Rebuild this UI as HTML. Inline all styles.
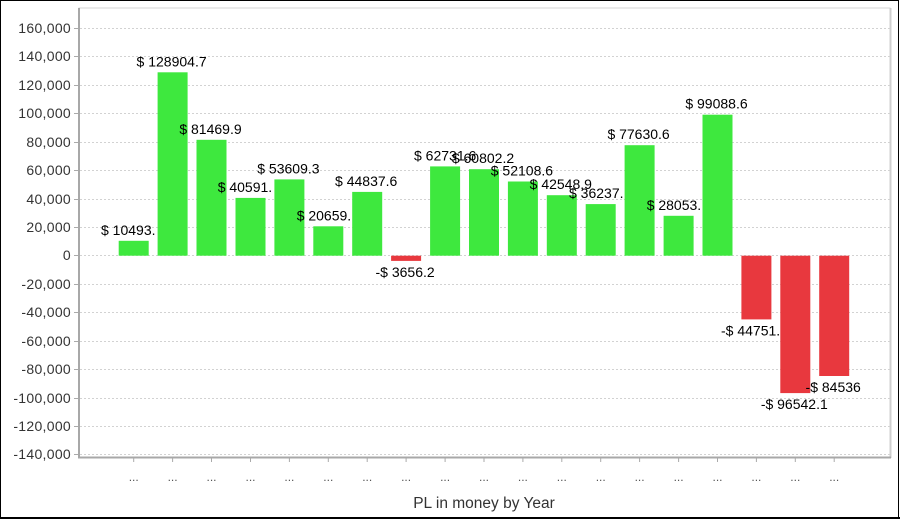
<!DOCTYPE html>
<html><head><meta charset="utf-8"><style>
html,body{margin:0;padding:0;background:#fff;}
svg{display:block;}
text{font-family:"Liberation Sans",Arial,sans-serif;}
</style></head><body>
<svg width="900" height="519" viewBox="0 0 900 519" xmlns="http://www.w3.org/2000/svg">
<rect x="0" y="0" width="900" height="519" fill="#fff"/>
<!-- outer border -->
<rect x="0.5" y="0.5" width="898" height="517" fill="none" stroke="#000" stroke-width="1"/>
<line x1="898.5" y1="0" x2="898.5" y2="519" stroke="#000" stroke-width="1"/>
<line x1="0" y1="518" x2="900" y2="518" stroke="#000" stroke-width="2"/>

<!-- plot frame -->
<rect x="79" y="8" width="811" height="449" fill="#fff" stroke="#d4d4d4" stroke-width="1"/>
<line x1="890.5" y1="8" x2="890.5" y2="458" stroke="#cfcfcf" stroke-width="2"/>

<!-- gridlines -->
<g stroke="#d2d2d2" stroke-width="1" stroke-dasharray="2,2">
<line x1="80" y1="28.5" x2="890" y2="28.5"/>
<line x1="80" y1="56.5" x2="890" y2="56.5"/>
<line x1="80" y1="85.5" x2="890" y2="85.5"/>
<line x1="80" y1="113.5" x2="890" y2="113.5"/>
<line x1="80" y1="142.5" x2="890" y2="142.5"/>
<line x1="80" y1="170.5" x2="890" y2="170.5"/>
<line x1="80" y1="199.5" x2="890" y2="199.5"/>
<line x1="80" y1="227.5" x2="890" y2="227.5"/>
<line x1="80" y1="255.5" x2="890" y2="255.5"/>
<line x1="80" y1="284.5" x2="890" y2="284.5"/>
<line x1="80" y1="312.5" x2="890" y2="312.5"/>
<line x1="80" y1="341.5" x2="890" y2="341.5"/>
<line x1="80" y1="369.5" x2="890" y2="369.5"/>
<line x1="80" y1="398.5" x2="890" y2="398.5"/>
<line x1="80" y1="426.5" x2="890" y2="426.5"/>
<line x1="80" y1="454.5" x2="890" y2="454.5"/>
</g>

<!-- y ticks -->
<g stroke="#aaa" stroke-width="1">
<line x1="74" y1="28.5" x2="79" y2="28.5"/>
<line x1="74" y1="56.5" x2="79" y2="56.5"/>
<line x1="74" y1="85.5" x2="79" y2="85.5"/>
<line x1="74" y1="113.5" x2="79" y2="113.5"/>
<line x1="74" y1="142.5" x2="79" y2="142.5"/>
<line x1="74" y1="170.5" x2="79" y2="170.5"/>
<line x1="74" y1="199.5" x2="79" y2="199.5"/>
<line x1="74" y1="227.5" x2="79" y2="227.5"/>
<line x1="74" y1="255.5" x2="79" y2="255.5"/>
<line x1="74" y1="284.5" x2="79" y2="284.5"/>
<line x1="74" y1="312.5" x2="79" y2="312.5"/>
<line x1="74" y1="341.5" x2="79" y2="341.5"/>
<line x1="74" y1="369.5" x2="79" y2="369.5"/>
<line x1="74" y1="398.5" x2="79" y2="398.5"/>
<line x1="74" y1="426.5" x2="79" y2="426.5"/>
<line x1="74" y1="454.5" x2="79" y2="454.5"/>
</g>

<!-- y labels -->
<g font-size="14" fill="#333" text-anchor="end" letter-spacing="0.3">
<text x="71" y="33">160,000</text>
<text x="71" y="61">140,000</text>
<text x="71" y="90">120,000</text>
<text x="71" y="118">100,000</text>
<text x="71" y="147">80,000</text>
<text x="71" y="175">60,000</text>
<text x="71" y="204">40,000</text>
<text x="71" y="232">20,000</text>
<text x="71" y="260">0</text>
<text x="71" y="289">-20,000</text>
<text x="71" y="317">-40,000</text>
<text x="71" y="346">-60,000</text>
<text x="71" y="374">-80,000</text>
<text x="71" y="403">-100,000</text>
<text x="71" y="431">-120,000</text>
<text x="71" y="459">-140,000</text>
</g>

<!-- bars and labels in draw order -->
<g font-size="14" fill="#000" text-anchor="middle">
<rect x="118.7" y="240.8" width="30" height="14.9" fill="#3ee83e"/>
<text x="101" y="234.8" text-anchor="start">$ 10493.</text>
<rect x="157.6" y="72.3" width="30" height="183.4" fill="#3ee83e"/>
<text x="171.6" y="66.3">$ 128904.7</text>
<rect x="196.5" y="139.8" width="30" height="115.9" fill="#3ee83e"/>
<text x="210.5" y="133.8">$ 81469.9</text>
<rect x="235.5" y="197.9" width="30" height="57.8" fill="#3ee83e"/>
<text x="217.7" y="191.9" text-anchor="start">$ 40591.</text>
<rect x="274.4" y="179.4" width="30" height="76.3" fill="#3ee83e"/>
<text x="288.4" y="173.4">$ 53609.3</text>
<rect x="313.3" y="226.3" width="30" height="29.4" fill="#3ee83e"/>
<text x="296.7" y="220.3" text-anchor="start">$ 20659.</text>
<rect x="352.2" y="191.9" width="30" height="63.8" fill="#3ee83e"/>
<text x="366.2" y="185.9">$ 44837.6</text>
<rect x="391.1" y="255.7" width="30" height="5.2" fill="#e8383e"/>
<text x="405.1" y="277">-$ 3656.2</text>
<rect x="430.1" y="166.4" width="30" height="89.3" fill="#3ee83e"/>
<text x="414" y="160.4" text-anchor="start">$ 62731.6</text>
<rect x="469.0" y="169.2" width="30" height="86.5" fill="#3ee83e"/>
<text x="483.0" y="163.2">$ 60802.2</text>
<rect x="507.9" y="181.5" width="30" height="74.2" fill="#3ee83e"/>
<text x="521.9" y="175.5">$ 52108.6</text>
<rect x="546.8" y="195.2" width="30" height="60.5" fill="#3ee83e"/>
<text x="560.8" y="189.2">$ 42548.9</text>
<rect x="585.7" y="204.1" width="30" height="51.6" fill="#3ee83e"/>
<text x="569" y="198.1" text-anchor="start">$ 36237.</text>
<rect x="624.6" y="145.2" width="30" height="110.5" fill="#3ee83e"/>
<text x="638.6" y="139.2">$ 77630.6</text>
<rect x="663.6" y="215.8" width="30" height="39.9" fill="#3ee83e"/>
<text x="646.7" y="209.8" text-anchor="start">$ 28053.</text>
<rect x="702.5" y="114.7" width="30" height="141.0" fill="#3ee83e"/>
<text x="716.5" y="108.7">$ 99088.6</text>
<rect x="741.4" y="255.7" width="30" height="63.7" fill="#e8383e"/>
<text x="721" y="335.4" text-anchor="start">-$ 44751.</text>
<rect x="780.3" y="255.7" width="30" height="137.4" fill="#e8383e"/>
<text x="794.3" y="409.1">-$ 96542.1</text>
<rect x="819.2" y="255.7" width="30" height="120.3" fill="#e8383e"/>
<text x="833.2" y="392">-$ 84536</text>
</g>

<!-- axes -->
<line x1="79" y1="8" x2="79" y2="458.5" stroke="#a8a8a8" stroke-width="2"/>
<line x1="78" y1="457.5" x2="891" y2="457.5" stroke="#a8a8a8" stroke-width="2"/>

<!-- x ticks -->
<g stroke="#aaa" stroke-width="1">
<line x1="133.7" y1="458" x2="133.7" y2="462"/>
<line x1="172.6" y1="458" x2="172.6" y2="462"/>
<line x1="211.5" y1="458" x2="211.5" y2="462"/>
<line x1="250.5" y1="458" x2="250.5" y2="462"/>
<line x1="289.4" y1="458" x2="289.4" y2="462"/>
<line x1="328.3" y1="458" x2="328.3" y2="462"/>
<line x1="367.2" y1="458" x2="367.2" y2="462"/>
<line x1="406.1" y1="458" x2="406.1" y2="462"/>
<line x1="445.1" y1="458" x2="445.1" y2="462"/>
<line x1="484.0" y1="458" x2="484.0" y2="462"/>
<line x1="522.9" y1="458" x2="522.9" y2="462"/>
<line x1="561.8" y1="458" x2="561.8" y2="462"/>
<line x1="600.7" y1="458" x2="600.7" y2="462"/>
<line x1="639.6" y1="458" x2="639.6" y2="462"/>
<line x1="678.6" y1="458" x2="678.6" y2="462"/>
<line x1="717.5" y1="458" x2="717.5" y2="462"/>
<line x1="756.4" y1="458" x2="756.4" y2="462"/>
<line x1="795.3" y1="458" x2="795.3" y2="462"/>
<line x1="834.2" y1="458" x2="834.2" y2="462"/>
</g>

<!-- x tick labels -->
<g font-size="12" fill="#555" text-anchor="middle">
<text x="133.7" y="481">...</text>
<text x="172.6" y="481">...</text>
<text x="211.5" y="481">...</text>
<text x="250.5" y="481">...</text>
<text x="289.4" y="481">...</text>
<text x="328.3" y="481">...</text>
<text x="367.2" y="481">...</text>
<text x="406.1" y="481">...</text>
<text x="445.1" y="481">...</text>
<text x="484.0" y="481">...</text>
<text x="522.9" y="481">...</text>
<text x="561.8" y="481">...</text>
<text x="600.7" y="481">...</text>
<text x="639.6" y="481">...</text>
<text x="678.6" y="481">...</text>
<text x="717.5" y="481">...</text>
<text x="756.4" y="481">...</text>
<text x="795.3" y="481">...</text>
<text x="834.2" y="481">...</text>
</g>

<text x="484" y="508" font-size="15.5" fill="#333" text-anchor="middle">PL in money by Year</text>
</svg>
</body></html>
